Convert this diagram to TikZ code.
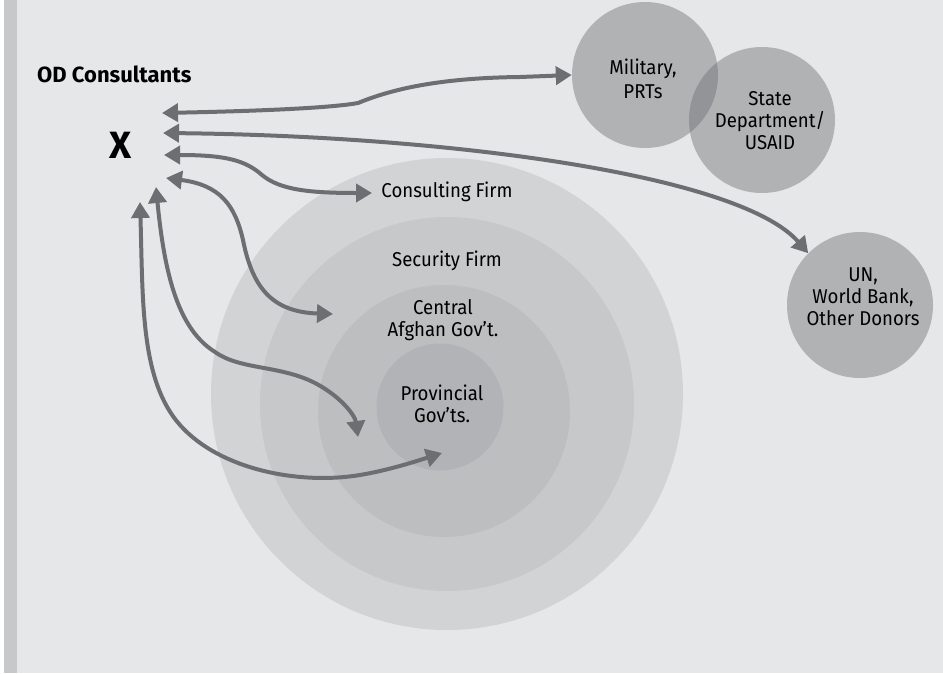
\documentclass[tikz,border=0pt]{standalone}
\usepackage{fontspec}
\setmainfont{Fira Sans}
\newfontfamily\lblfont[FakeStretch=0.93]{Fira Sans}
\usetikzlibrary{arrows.meta}
\definecolor{bgc}{HTML}{E6E7E8}
\definecolor{stripc}{HTML}{C7C8CA}
\definecolor{ringa}{HTML}{D1D3D4}
\definecolor{ringb}{HTML}{C7C8CA}
\definecolor{ringc}{HTML}{BCBEC0}
\definecolor{ringd}{HTML}{B1B3B6}
\definecolor{arrowgray}{HTML}{6D6E71}
\begin{document}
\begin{tikzpicture}[x=1pt,y=-1pt,
  lbl/.style={font=\lblfont\fontsize{20}{22}\selectfont, inner sep=0pt, text=black},
  mlbl/.style={lbl, align=center},
  ring/.style={circle, inner sep=0pt, draw=none},
  blob/.style={circle, inner sep=0pt, draw=none, fill=arrowgray, fill opacity=0.43, minimum size=146pt},
  link/.style={draw=arrowgray, line width=4pt, {Triangle[length=16pt,width=18pt]}-{Triangle[length=16pt,width=18pt]}},
]
\useasboundingbox (0,0) rectangle (943,673);
\fill[white] (0,0) rectangle (943,673);
\fill[bgc] (4,0) rectangle (943,673);
\fill[stripc] (4,0) rectangle (17,673);

% concentric rings
\node[ring, fill=ringa, minimum size=472pt] (outer) at (447,394) {};
\node[ring, fill=ringb, minimum size=374pt] (security) at (447,404) {};
\node[ring, fill=ringc, minimum size=252pt] (central) at (444,411) {};
\node[ring, fill=ringd, minimum size=127pt] (prov) at (440,407) {};

% top-right blobs
\node[blob] (mil) at (645,75) {};
\node[blob] (state) at (762,120) {};
\node[blob] (un) at (860,305) {};

% labels
\node[font=\bfseries\fontsize{22}{26}\selectfont, anchor=base west, inner sep=0pt] (od) at (37,82) {OD Consultants};
\node[font=\bfseries\fontsize{38}{44}\selectfont, anchor=base, inner sep=0pt] (x) at (121,158) {X};
\node[lbl, anchor=base] (tcons) at (447,197) {Consulting Firm};
\node[lbl, anchor=base] (tsec) at (447,266) {Security Firm};
\node[mlbl] (tcen) at (443,320) {Central\\Afghan Gov’t.};
\node[mlbl] (tprov) at (442,403.5) {Provincial\\Gov’ts.};
\node[mlbl] (tmil) at (643,78.5) {Military,\\[2pt]PRTs};
\node[mlbl] (tstate) at (770,120.5) {State\\Department/\\USAID};
\node[mlbl] (tun) at (863,297) {UN,\\World Bank,\\Other Donors};

% connector end points
\coordinate (s1) at (162,113);
\coordinate (s2) at (163,133);
\coordinate (s3) at (164,155);
\coordinate (s4) at (166,178);
\coordinate (s5) at (156,187);
\coordinate (s6) at (140,202);
\coordinate (e3) at (372,193);
\coordinate (e4) at (333,314);
\coordinate (e5) at (358,437);
\coordinate (e6) at (442,453);

% connectors
\draw[link] (s1) .. controls (260,111) and (330,108) .. (358,103)
  .. controls (385,92) and (430,78) .. (520,77) -- (mil.west);
\draw[link] (s2) .. controls (450,136) and (740,175) .. (un.135);
\draw[link] (s3) .. controls (225,155) and (245,160) .. (262,175)
  .. controls (280,190) and (310,193) .. (e3);
\draw[link] (s4) .. controls (220,185) and (235,205) .. (243,240)
  .. controls (252,285) and (270,312) .. (e4);
\draw[link] (s5) .. controls (165,280) and (180,330) .. (215,352)
  .. controls (240,370) and (280,365) .. (315,383)
  .. controls (340,396) and (355,415) .. (e5);
\draw[link] (s6) .. controls (143,300) and (140,380) .. (180,425)
  .. controls (220,470) and (300,485) .. (360,475)
  .. controls (390,470) and (420,460) .. (e6);
\end{tikzpicture}
\end{document}
